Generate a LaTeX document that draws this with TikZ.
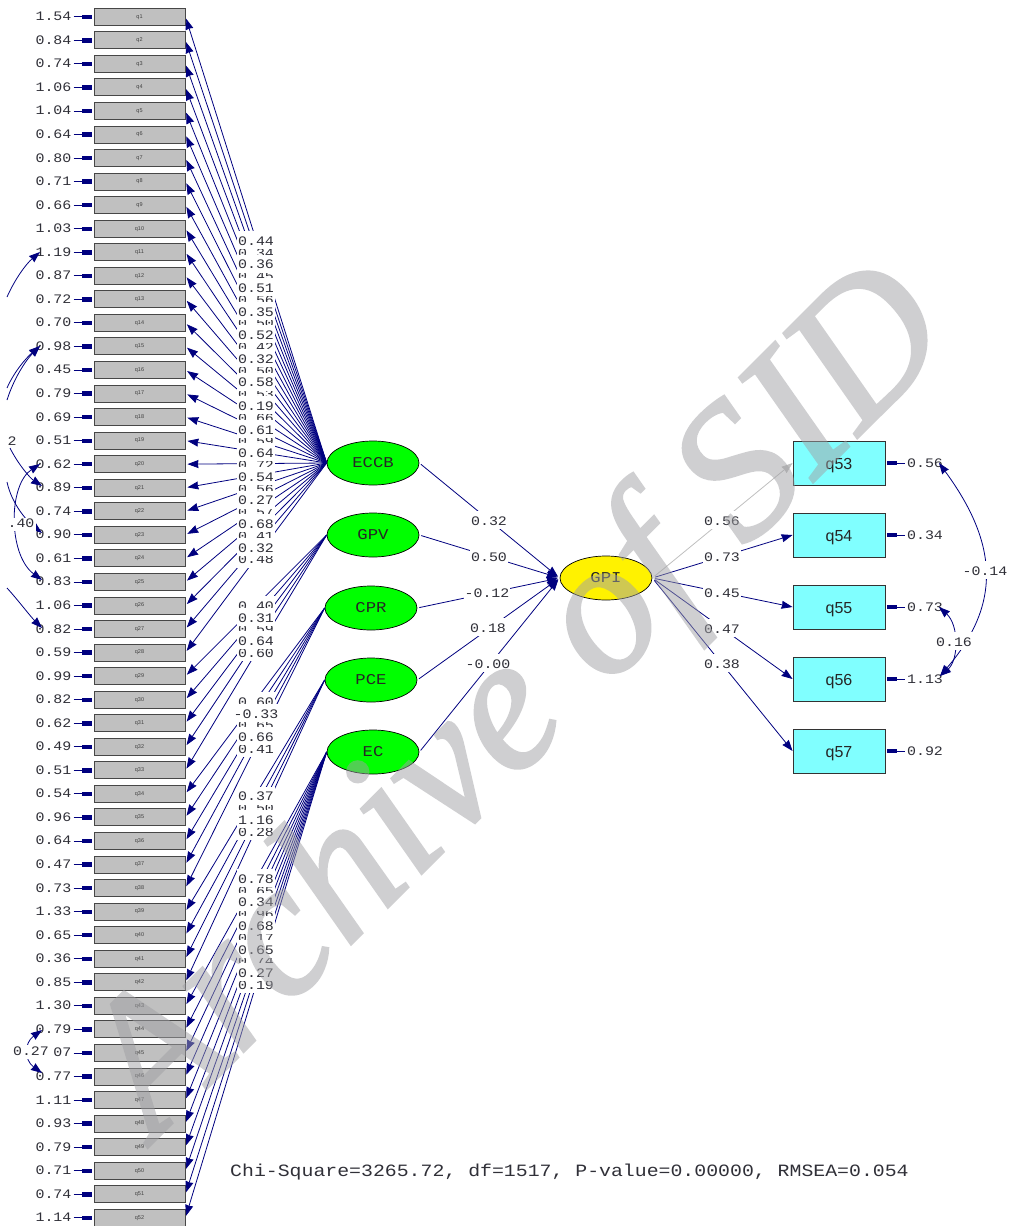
\documentclass[tikz,border=0pt]{standalone}
\usepackage{fontspec}
\usetikzlibrary{arrows.meta,shapes.geometric}
\newfontfamily\labf[FakeStretch=1.15]{Liberation Mono}
\newfontfamily\sansf{Liberation Sans}
\newfontfamily\wmf[ItalicFeatures={FakeBold=1.5}]{Liberation Serif}
\definecolor{nv}{HTML}{00007F}
\definecolor{txt}{HTML}{303038}
\definecolor{bxf}{HTML}{C0C0C0}
\definecolor{cy}{HTML}{80FFFF}
\definecolor{wm}{HTML}{A0A0A4}
\newcommand{\lbls}[3]{\foreach \k/\t in {#3} {\node[mlab] (#1\k) at (256,{#2+(\k-1)*11.8}) {\t};}}
\tikzset{
  tipm/.tip={Stealth[length=11pt,width=8pt,inset=.6pt]},
  load/.style={draw=nv,line width=.8pt,-{tipm},shorten >=2pt},
  reg/.style={draw=nv,line width=.8pt,-{tipm}},
  err/.style={draw=nv,line width=.8pt,-{Rectangle[length=10pt,width=4.2pt]},shorten <=1pt,shorten >=1.5pt},
  cov/.style={draw=nv,line width=.8pt,{tipm}-{tipm}},
  covfree/.style={draw=nv,line width=.8pt,-{tipm}},
  lab/.style={font=\labf\fontsize{13}{13}\selectfont,text=txt,inner sep=0pt,inner xsep=1pt},
  errlab/.style={lab,text height=8pt,text depth=0pt},
  mlab/.style={lab,fill=white,text height=14.3pt,text depth=3.7pt,anchor=base,yshift=-4.3pt},
  ibox/.style={draw=black!72,line width=.9pt,fill=bxf,minimum width=91pt,minimum height=17pt,inner sep=0pt,font=\sansf\fontsize{5.5}{5.5}\selectfont,text=black!75},
  obox/.style={draw=black!80,line width=.9pt,fill=cy,minimum width=92pt,minimum height=44pt,inner sep=0pt,text height=12pt,text depth=0pt,font=\sansf\fontsize{16}{16}\selectfont,text=black!85},
  lat/.style={ellipse,draw=black,line width=.7pt,minimum width=92pt,minimum height=44pt,inner sep=0pt,font=\labf\fontsize{15}{15}\selectfont,text=black!85},
}
\begin{document}
\begin{tikzpicture}[x=1pt,y=-1pt]
\useasboundingbox (0,0) rectangle (1013,1226);
% observed left column
\foreach \i/\v in {1/1.54,2/0.84,3/0.74,4/1.06,5/1.04,6/0.64,7/0.80,8/0.71,9/0.66,10/1.03,11/1.19,12/0.87,13/0.72,14/0.70,15/0.98,16/0.45,17/0.79,18/0.69,19/0.51,20/0.62,21/0.89,22/0.74,23/0.90,24/0.61,25/0.83,26/1.06,27/0.82,28/0.59,29/0.99,30/0.82,31/0.62,32/0.49,33/0.51,34/0.54,35/0.96,36/0.64,37/0.47,38/0.73,39/1.33,40/0.65,41/0.36,42/0.85,43/1.30,44/0.79,45/1.07,46/0.77,47/1.11,48/0.93,49/0.79,50/0.71,51/0.74,52/1.14} {
  \node[ibox] (q\i) at (139.5,{16.7+(\i-1)*23.55}) {q\i};
  \node[errlab] (e\i) at (53.5,{16.7+(\i-1)*23.55}) {\v};
  \draw[err] (e\i.east) -- (q\i.west);
}
% latent
\node[lat,fill=green] (ECCB) at (373,463) {ECCB};
\node[lat,fill=green] (GPV) at (373,535) {GPV};
\node[lat,fill=green] (CPR) at (371,608) {CPR};
\node[lat,fill=green] (PCE) at (371,680) {PCE};
\node[lat,fill=green] (EC) at (373,752) {EC};
\node[lat,fill=yellow] (GPI) at (606,578) {GPI};
% observed right
\foreach \i/\yy/\v in {53/463/0.56,54/535/0.34,55/607/0.73,56/679/1.13,57/751/0.92} {
  \node[obox] (q\i) at (839,\yy) {q\i};
  \node[errlab] (e\i) at (925,\yy) {\v};
  \draw[err] (e\i.west) -- (q\i.east);
}
% loadings ECCB
\foreach \i in {1,...,28} \draw[load] (ECCB.west) -- (q\i.east);
\lbls{a}{241}{2/0.34,4/0.45,6/0.56,8/0.50,10/0.42,12/0.50,14/0.53,16/0.66,18/0.59,20/0.72,22/0.56,24/0.57,26/0.41,28/0.48}
\lbls{a}{241}{1/0.44,3/0.36,5/0.51,7/0.35,9/0.52,11/0.32,13/0.58,15/0.19,17/0.61,19/0.64,21/0.54,23/0.27,25/0.68,27/0.32}
% GPV
\foreach \i in {29,...,33} \draw[load] (GPV.west) -- (q\i.east);
\lbls{b}{606}{1/0.40,3/0.59,5/0.60}
\lbls{b}{606}{2/0.31,4/0.64}
% CPR
\foreach \i in {34,...,38} \draw[load] (CPR.west) -- (q\i.east);
\lbls{c}{702}{1/0.60,3/0.65,5/0.41}
\lbls{c}{702}{2/-0.33,4/0.66}
% PCE
\foreach \i in {39,...,42} \draw[load] (PCE.west) -- (q\i.east);
\lbls{d}{796.5}{2/0.50,4/0.28}
\lbls{d}{796.5}{1/0.37,3/1.16}
% EC
\foreach \i in {43,...,52} \draw[load] (EC.west) -- (q\i.east);
\lbls{f}{879}{2/0.65,4/0.96,6/0.17,8/0.74,10/0.19}
\lbls{f}{879}{1/0.78,3/0.34,5/0.68,7/0.65,9/0.27}
% structural
\draw[reg,shorten <=2pt,shorten >=2pt] (ECCB.east) -- (GPI.west);
\draw[reg,shorten <=2pt,shorten >=2pt] (GPV.east) -- (GPI.west);
\draw[reg,shorten <=2pt,shorten >=2pt] (CPR.east) -- (GPI.west);
\draw[reg,shorten <=2pt,shorten >=2pt] (PCE.east) -- (GPI.west);
\draw[reg,shorten <=2pt,shorten >=2pt] (EC.east) -- (GPI.west);
\draw[reg,draw=black!25,shorten <=3pt] (GPI.east) -- (q53.west);
\draw[reg,shorten <=3pt] (GPI.east) -- (q54.west);
\draw[reg,shorten <=3pt] (GPI.east) -- (q55.west);
\draw[reg,shorten <=3pt] (GPI.east) -- (q56.west);
\draw[reg,shorten <=3pt] (GPI.east) -- (q57.west);
\foreach \n/\xx/\yy/\t in {s1/489/521/0.32,s2/489/557/0.50,s3/487/593/-0.12,s4/488/628/0.18,s5/488/664/-0.00,r1/722/521/0.56,r2/722/557/0.73,r3/722/593/0.45,r4/722/629/0.47,r5/722/664/0.38}
  \node[mlab] (\n) at (\xx,\yy) {\t};
% covariances right
\coordinate (t53) at (939,463);
\coordinate (t55) at (939,607);
\coordinate (t56) at (940,676);
\draw[cov] (t56) .. controls (1000,606) and (1000,546) .. (t53);
\draw[cov] (t56) .. controls (959,660) and (959,625) .. (t55);
\node[mlab] (c14) at (985,571) {-0.14};
\node[mlab] (c16) at (954,642) {0.16};
% covariances left (cut at the picture's left margin)
\coordinate (a0) at (7,297); \coordinate (a1) at (40,252);
\coordinate (b0) at (7,388); \coordinate (b00) at (7,400); \coordinate (b1) at (40,346);
\coordinate (c0) at (10,448); \coordinate (c1) at (42,486);
\coordinate (d0) at (7,482); \coordinate (d1) at (42,533);
\coordinate (e0) at (40,464); \coordinate (e1) at (42,580);
\coordinate (f0) at (7,588); \coordinate (f1) at (42,628);
\draw[covfree] (a0) .. controls (15,279) and (26,264) .. (a1);
\draw[covfree] (b0) .. controls (14,372) and (26,358) .. (b1);
\draw[covfree] (b00) .. controls (14,378) and (26,360) .. (b1);
\draw[covfree] (c0) .. controls (18,464) and (30,478) .. (c1);
\draw[covfree] (d0) .. controls (12,505) and (28,522) .. (d1);
\draw[cov] (e0) .. controls (8,485) and (8,555) .. (e1);
\draw[covfree] (f0) .. controls (18,600) and (30,616) .. (f1);
\node[errlab,fill=white] (k2) at (12,441) {2};
\node[errlab,fill=white,text height=10pt,text depth=3pt,inner xsep=2pt] (k40) at (21,524) {.40};
\coordinate (g0) at (42,1073); \coordinate (g1) at (42,1030);
\draw[cov] (g0) .. controls (24,1060) and (24,1043) .. (g1);
\node[errlab,fill=white,text height=10pt,text depth=4pt] (k27) at (31,1052) {0.27};
% fit line
\node[font=\labf\fontsize{17.25}{17.25}\selectfont,text=txt,inner sep=0pt,anchor=west] (fit) at (230,1172) {Chi-Square=3265.72, df=1517, P-value=0.00000, RMSEA=0.054};
% watermark
\begin{scope}[transparency group,opacity=.5]
\node[anchor=base west,rotate=45,inner sep=0pt,text=wm,font=\wmf\itshape\fontsize{192}{192}\selectfont] (wmk) at (155,1140) {Archive of SID};
\end{scope}
\end{tikzpicture}
\end{document}
